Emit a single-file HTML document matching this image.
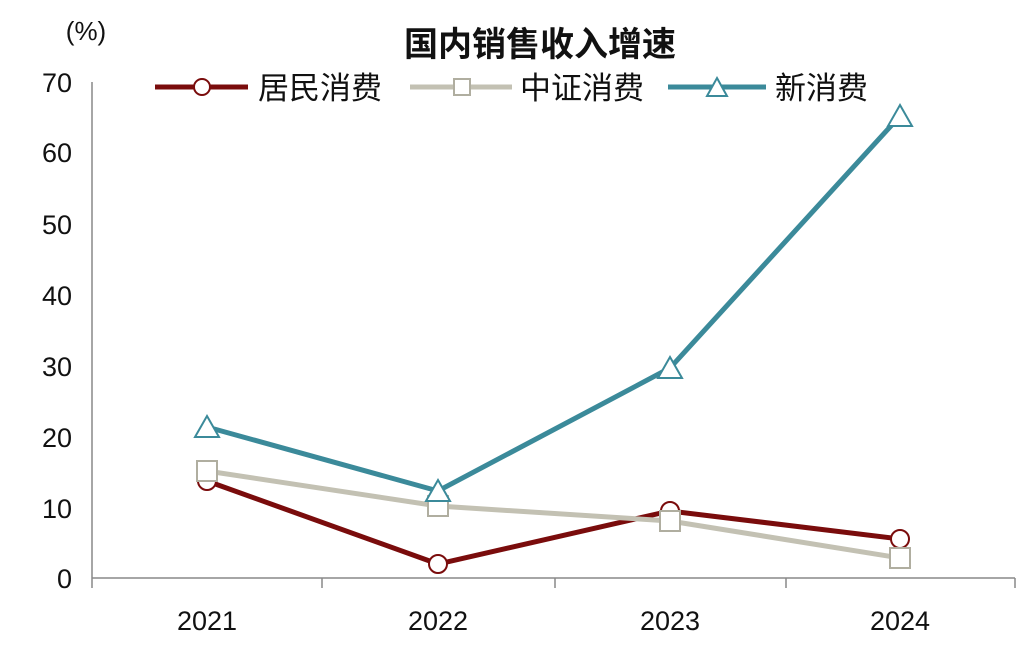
<!DOCTYPE html>
<html><head><meta charset="utf-8"><style>
html,body{margin:0;padding:0;background:#fff;}
svg{display:block;}
text{font-family:"Liberation Sans","Noto Sans CJK SC",sans-serif;fill:#111;}
</style></head><body>
<svg width="1024" height="646" viewBox="0 0 1024 646" xmlns="http://www.w3.org/2000/svg">
<text x="540" y="56" font-size="34" font-weight="bold" text-anchor="middle">国内销售收入增速</text>
<text x="86" y="40" font-size="26" text-anchor="middle">(%)</text>
<g font-size="27" text-anchor="end">
<text x="72" y="92">70</text><text x="72" y="162">60</text><text x="72" y="234">50</text>
<text x="72" y="305">40</text><text x="72" y="376">30</text><text x="72" y="447">20</text>
<text x="72" y="518">10</text><text x="72" y="588">0</text>
</g>
<g stroke="#888" stroke-width="1.5" fill="none">
<line x1="92" y1="82" x2="92" y2="578"/>
<line x1="92" y1="578" x2="1015" y2="578"/>
<line x1="322" y1="578" x2="322" y2="588"/><line x1="555" y1="578" x2="555" y2="588"/>
<line x1="786" y1="578" x2="786" y2="588"/><line x1="1015" y1="578" x2="1015" y2="588"/>
<line x1="92" y1="578" x2="92" y2="588"/>
</g>
<g font-size="27" text-anchor="middle">
<text x="207" y="630">2021</text><text x="438" y="630">2022</text><text x="670" y="630">2023</text><text x="900" y="630">2024</text>
</g>
<line x1="155" y1="87" x2="248" y2="87" stroke="#7a0c0c" stroke-width="5"/>
<circle cx="202" cy="87" r="8" fill="#fff" stroke="#7a0c0c" stroke-width="2"/>
<text x="258" y="99" font-size="31">居民消费</text>
<line x1="410" y1="87" x2="512" y2="87" stroke="#c3c1b3" stroke-width="5"/>
<rect x="454" y="79" width="16" height="16" fill="#fff" stroke="#b0aea0" stroke-width="2"/>
<text x="520" y="99" font-size="31">中证消费</text>
<line x1="668" y1="87" x2="766" y2="87" stroke="#3b8a9a" stroke-width="5"/>
<polygon points="717,78 727,96 707,96" fill="#fff" stroke="#3b8a9a" stroke-width="2"/>
<text x="775" y="99" font-size="31">新消费</text>
<polyline points="207,481 438,564 670,511 900,539" fill="none" stroke="#7a0c0c" stroke-width="5"/>
<polyline points="207,471 438,506 670,521 900,558" fill="none" stroke="#c3c1b3" stroke-width="5"/>
<polyline points="207,427 438,491 670,368 900,116" fill="none" stroke="#3b8a9a" stroke-width="5"/>
<g fill="#fff" stroke="#7a0c0c" stroke-width="2">
<circle cx="207" cy="481" r="9"/><circle cx="438" cy="564" r="9"/><circle cx="670" cy="511" r="9"/><circle cx="900" cy="539" r="9"/>
</g>
<g fill="#fff" stroke="#b0aea0" stroke-width="2">
<rect x="197" y="461" width="20" height="20"/><rect x="428" y="496" width="20" height="20"/><rect x="660" y="511" width="20" height="20"/><rect x="890" y="548" width="20" height="20"/>
</g>
<g fill="#fff" stroke="#3b8a9a" stroke-width="2">
<polygon points="207,416 219,437 195,437"/><polygon points="438,480 450,501 426,501"/><polygon points="670,357 682,378 658,378"/><polygon points="900,105 912,126 888,126"/>
</g>
</svg>
</body></html>
